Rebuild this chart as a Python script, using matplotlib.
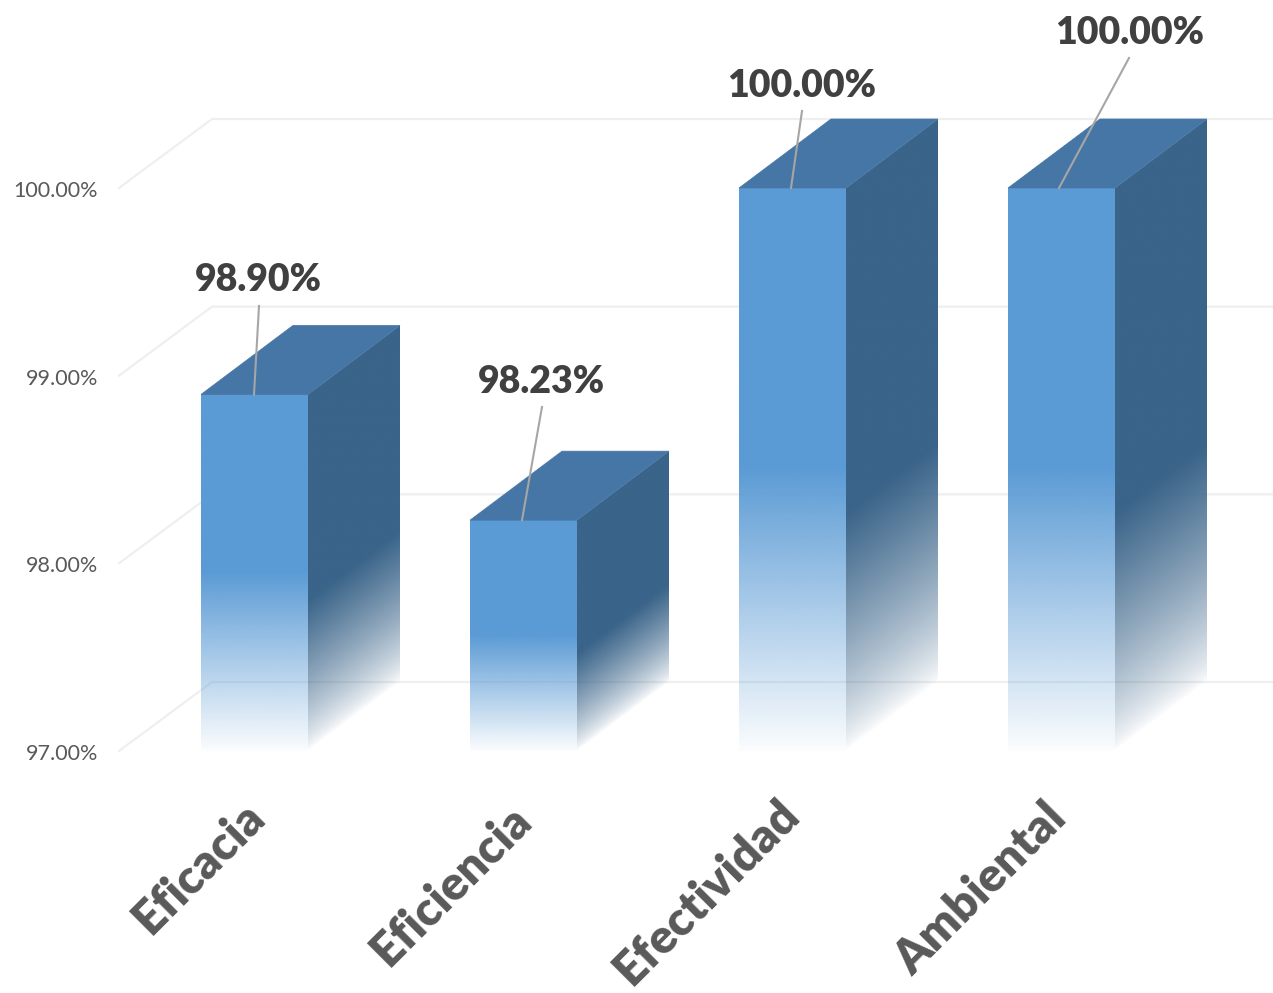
import numpy as np
from matplotlib import pyplot as plt
from matplotlib.patches import Polygon
from matplotlib.colors import to_rgb

plt.rcParams['font.family'] = ['Lato', 'DejaVu Sans']

categories = ['Eficacia', 'Eficiencia', 'Efectividad', 'Ambiental']
values = [98.90, 98.23, 100.00, 100.00]
value_labels = ['98.90%', '98.23%', '100.00%', '100.00%']
y_ticks = [97, 98, 99, 100]
y_tick_labels = ['97.00%', '98.00%', '99.00%', '100.00%']

# scale of the chart, pixels per unit
PX_X = 269
PX_Y = 187.67
X0_PX = 254.5
Y0_PX = 751
BASE = 97

FRONT = '#5b9bd5'
SIDE = '#3a6489'
TOP = '#4676a5'
GRID = '#efefef'

HALF = 53.5 / PX_X
DX = 92 / PX_X
DY = 69 / PX_Y


def px_x(p):
    return (p - X0_PX) / PX_X


def px_y(p):
    return BASE + (Y0_PX - p) / PX_Y


def fade(frac, solid=0.5, floor=0.0, power=1.0):
    # solid on the upper part of the bar, fading out to the base
    return floor + (1 - floor) * np.clip(frac / solid, 0, 1) ** power


def gradient_face(ax, corners, alpha, color):
    xs, ys = zip(*corners)
    rgba = np.ones(alpha.shape + (4,))
    rgba[..., :3] = to_rgb(color)
    rgba[..., 3] = alpha
    im = ax.imshow(rgba, extent=[min(xs), max(xs), min(ys), max(ys)], origin='lower',
                   aspect='auto', interpolation='bilinear', zorder=3)
    clip = Polygon(corners, closed=True, transform=ax.transData, fc='none', ec='none')
    ax.add_patch(clip)
    im.set_clip_path(clip)


def draw_bar(ax, i, value):
    x0, x1 = i - HALF, i + HALF
    height = value - BASE

    # front
    yy = np.linspace(0, 1, 300)[:, None]
    gradient_face(ax, [(x0, BASE), (x1, BASE), (x1, value), (x0, value)],
                  fade(yy, floor=0.025) * np.ones((300, 2)), FRONT)

    # side, the fade follows the slant of the face
    gx, gy = np.meshgrid(np.linspace(x1, x1 + DX, 200),
                         np.linspace(BASE, value + DY, 400))
    up = gy - BASE - (gx - x1) * DY / DX
    gradient_face(ax, [(x1, BASE), (x1 + DX, BASE + DY), (x1 + DX, value + DY), (x1, value)],
                  fade(up / height, solid=0.42, power=0.75), SIDE)

    # top
    ax.add_patch(Polygon([(x0, value), (x1, value), (x1 + DX, value + DY), (x0 + DX, value + DY)],
                         closed=True, fc=TOP, ec=TOP, lw=0.5, zorder=3))


def main():
    f = plt.figure(figsize=(12.73, 9.93), dpi=100)
    ax = f.add_axes([0, 0, 1, 1])
    ax.set_xlim(px_x(0), px_x(1273))
    ax.set_ylim(px_y(993), px_y(0))
    ax.axis('off')

    # walls of the 3d box
    left = px_x(119)
    for tick, label in zip(y_ticks, y_tick_labels):
        ax.plot([left, left + DX * 93 / 92, px_x(1273)], [tick, tick + DY, tick + DY],
                color=GRID, lw=1.6, zorder=1, solid_joinstyle='miter')
        ax.text(px_x(98), tick - 3 / PX_Y, label, ha='right', va='center', fontsize=15.5,
                color='#595959')

    for i, value in enumerate(values):
        draw_bar(ax, i, value)

    # value labels with their leader lines
    label_px = [(258, 280), (541, 382), (802, 86), (1130, 33)]
    line_px = [(259, 306, 254), (542, 407, 522), (802, 111, 791), (1129, 58, 1059)]
    for value, text, (lx, ly), (ax0, ay0, ax1) in zip(values, value_labels, label_px, line_px):
        ax.plot([px_x(ax0), px_x(ax1)], [px_y(ay0), value], color='#a6a6a6', lw=1.5, zorder=4)
        ax.text(px_x(lx), px_y(ly), text, ha='center', va='center', fontsize=27,
                fontweight='heavy', color='#404040', zorder=5)

    # category labels
    cat_px = [(199, 868), (451, 885), (707, 892), (981, 889)]
    for name, (cx, cy) in zip(categories, cat_px):
        ax.text(px_x(cx), px_y(cy), name, ha='center', va='center', rotation=45,
                rotation_mode='anchor', fontsize=34, fontweight='heavy', color='#595959')

    ax.set_xlim(px_x(0), px_x(1273))
    ax.set_ylim(px_y(993), px_y(0))
    plt.savefig('out.png', dpi=100)
    plt.close('all')


if __name__ == '__main__':
    main()
